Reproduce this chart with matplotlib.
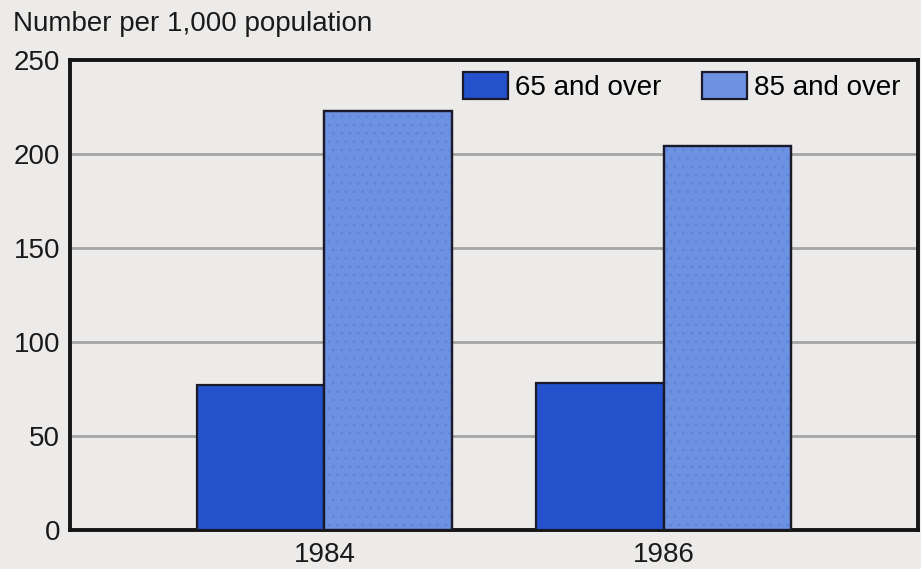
import matplotlib
matplotlib.use("Agg")
import matplotlib.pyplot as plt
import numpy as np

years = ["1984", "1986"]
series_names = ["65 and over", "85 and over"]
values_65 = [77, 78]
values_85 = [223, 204]
yticks = [0, 50, 100, 150, 200, 250]

plt.rcParams['font.family'] = ['Liberation Sans', 'DejaVu Sans']
plt.rcParams['hatch.linewidth'] = 0.8

bg = "#ECEBE9"
fs = 20
fig = plt.figure(figsize=(9.21, 5.69), dpi=100, facecolor=bg)
ax = fig.add_axes([70/921, 1-530/569, (918-70)/921, (530-60)/569])
ax.set_facecolor(bg)

x = np.arange(len(years))
w = 0.375
c65 = "#2352CC"
c85 = "#6E92E2"
ax.bar(x - w/2, values_65, width=w, color=c65, edgecolor="#1a1a2a", linewidth=1.6,
       label=series_names[0], zorder=3)
ax.bar(x + w/2, values_85, width=w, color=c85, edgecolor="#1a1a2a", linewidth=1.6,
       label=series_names[1], zorder=3)
# subtle dotted texture on the lighter bars
ax.bar(x + w/2, values_85, width=w, fill=False, hatch="..", edgecolor="#5C84E0",
       linewidth=0, zorder=3.5)
ax.bar(x + w/2, values_85, width=w, fill=False, edgecolor="#1a1a2a",
       linewidth=1.6, zorder=4)

ax.set_xlim(-0.75, 1.75)
ax.set_ylim(0, 250)
ax.set_yticks(yticks)
ax.set_yticklabels([str(t) for t in yticks], fontsize=fs, color="#1a1a1a")
ax.set_xticks(x)
ax.set_xticklabels(years, fontsize=fs, color="#1a1a1a")
ax.tick_params(length=0, pad=7)
ax.tick_params(axis='x', pad=9)

for t in yticks[1:-1]:
    ax.axhline(t, color="#A5A5A5", linewidth=2, zorder=1)

for s in ax.spines.values():
    s.set_linewidth(2.8)
    s.set_color("#151515")

leg = ax.legend(loc="upper right", ncol=2, frameon=False, fontsize=fs,
                handlelength=1.62, handleheight=1.1, handletextpad=0.25,
                columnspacing=1.45, borderaxespad=0.0, borderpad=0.0,
                bbox_to_anchor=(1 - 18/848, 1 - 12/470))

fig.text(13/921, 1-31/569, "Number per 1,000 population", fontsize=fs,
         color="#1a1a1a", va="baseline", ha="left")

fig.savefig("out.png", dpi=100, facecolor=bg)
